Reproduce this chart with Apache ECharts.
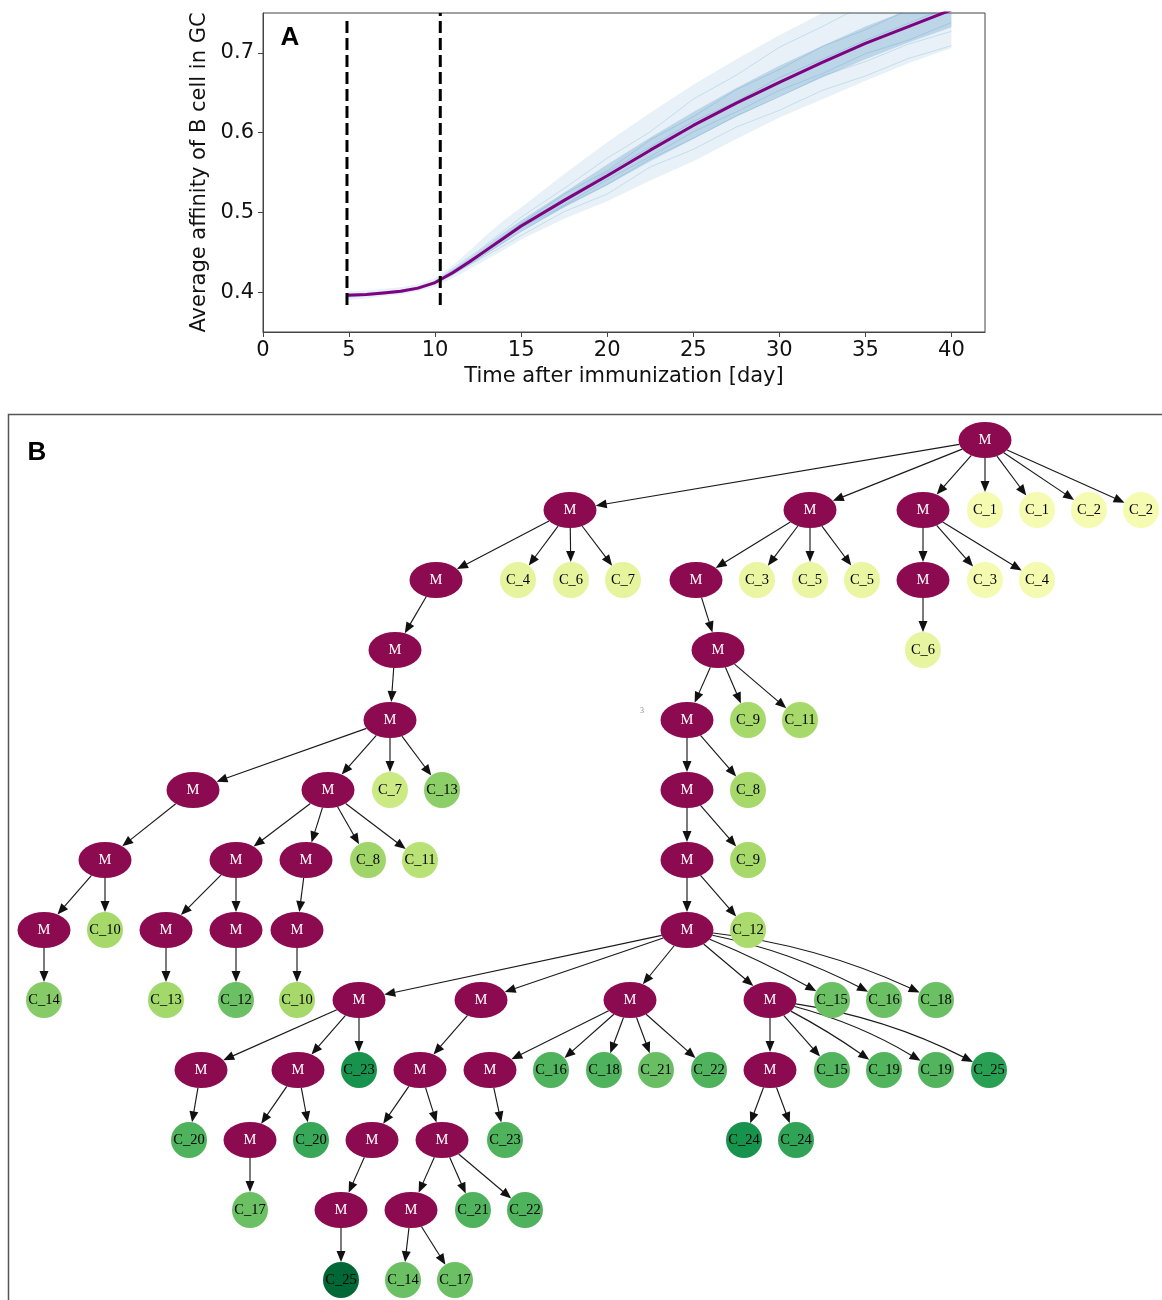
<!DOCTYPE html>
<html><head><meta charset="utf-8">
<script src="https://cdn.jsdelivr.net/npm/echarts@6/dist/echarts.min.js"></script>
<style>html,body{margin:0;padding:0;background:#fff}#c{width:1162px;height:1300px}</style>
</head><body><div id="c"></div>
<script>
// ================= Panel A data =================
const xTicks = [0, 5, 10, 15, 20, 25, 30, 35, 40];
const yTicks = [0.4, 0.5, 0.6, 0.7];
const days = [4.9, 6, 7, 8, 9, 10, 11, 12, 13, 14, 15, 17.5, 20, 22.5, 25, 27.5, 30, 32.5, 35, 37.5, 40];
const meanAffinity = [0.396, 0.397, 0.399, 0.401, 0.405, 0.412, 0.424, 0.438, 0.453, 0.468, 0.483, 0.515, 0.546, 0.578, 0.609, 0.637, 0.663, 0.688, 0.712, 0.733, 0.754];
const outerLow  = [0.390, 0.392, 0.395, 0.397, 0.401, 0.407, 0.417, 0.429, 0.441, 0.453, 0.466, 0.492, 0.514, 0.540, 0.564, 0.592, 0.619, 0.642, 0.665, 0.687, 0.706];
const outerHigh = [0.401, 0.402, 0.404, 0.406, 0.410, 0.418, 0.433, 0.452, 0.472, 0.490, 0.506, 0.548, 0.588, 0.625, 0.660, 0.692, 0.722, 0.750, 0.775, 0.795, 0.810];
const coreLow   = [0.393, 0.395, 0.397, 0.399, 0.403, 0.410, 0.421, 0.434, 0.448, 0.462, 0.476, 0.506, 0.534, 0.564, 0.592, 0.620, 0.645, 0.669, 0.692, 0.713, 0.732];
const coreHigh  = [0.399, 0.399, 0.401, 0.403, 0.407, 0.414, 0.428, 0.443, 0.459, 0.475, 0.490, 0.525, 0.560, 0.594, 0.626, 0.656, 0.684, 0.709, 0.733, 0.754, 0.776];
const traceDays = [10, 12.5, 15, 17.5, 20, 22.5, 25, 27.5, 30, 32.5, 35, 37.5, 40];
const trace1 = [0.414, 0.452, 0.494, 0.530, 0.568, 0.601, 0.642, 0.672, 0.707, 0.733, 0.761, 0.779, 0.801];
const trace2 = [0.413, 0.447, 0.486, 0.523, 0.552, 0.591, 0.620, 0.654, 0.679, 0.708, 0.729, 0.754, 0.770];
const trace3 = [0.412, 0.444, 0.481, 0.509, 0.541, 0.570, 0.601, 0.626, 0.653, 0.674, 0.699, 0.716, 0.738];
const trace4 = [0.411, 0.440, 0.471, 0.501, 0.523, 0.557, 0.579, 0.607, 0.628, 0.653, 0.671, 0.693, 0.709];
const trace5 = [0.412, 0.446, 0.485, 0.517, 0.550, 0.582, 0.614, 0.639, 0.669, 0.692, 0.716, 0.737, 0.759];
const trace6 = [0.412, 0.442, 0.476, 0.508, 0.535, 0.567, 0.593, 0.621, 0.645, 0.671, 0.689, 0.711, 0.727];
const markerDays = [4.88, 10.3];
const markerLow = [0.384, 0.384];
const markerHigh = [0.744, 0.75];

// ================= Panel B data (lineage tree) =================
const nodeLabel = [
  'M',
  'M','M','M','C_1','C_1','C_2','C_2',
  'M','C_4','C_6','C_7','M','C_3','C_5','C_5','M','C_3','C_4',
  'M','M','C_6',
  'M','M','C_9','C_11',
  'M','M','C_7','C_13','M','C_8',
  'M','M','M','C_8','C_11','M','C_9',
  'M','C_10','M','M','M','M','C_12',
  'C_14','C_13','C_12','C_10','M','M','M','M','C_15','C_16','C_18',
  'M','M','C_23','M','M','C_16','C_18','C_21','C_22','M','C_15','C_19','C_19','C_25',
  'C_20','M','C_20','M','M','C_23','C_24','C_24',
  'C_17','M','M','C_21','C_22',
  'C_25','C_14','C_17'
];
const nodeParent = [
  -1,
  0,0,0,0,0,0,0,
  1,1,1,1,2,2,2,2,3,3,3,
  8,12,16,
  19,20,20,20,
  22,22,22,22,23,23,
  26,27,27,27,27,30,30,
  32,32,33,33,34,37,37,
  39,41,42,43,44,44,44,44,44,44,44,
  50,50,50,51,52,52,52,52,52,53,53,53,53,53,
  57,58,58,60,60,61,66,66,
  72,74,75,75,75,
  80,81,81
];
// horizontal layout position of each node (graph units)
const nodePosX = [
  985,
  570,810,923,985,1037,1089,1141,
  436,518,571,623,696,757,810,862,923,985,1037,
  395,718,923,
  390,687,748,800,
  193,328,390,442,687,748,
  105,236,306,368,420,687,748,
  44,105,166,236,297,687,748,
  44,166,236,297,359,481,630,770,832,884,936,
  201,298,359,420,490,551,604,656,709,770,832,884,936,989,
  189,250,311,372,442,505,744,796,
  250,341,411,473,525,
  341,403,455
];
// colour value (0..1) of each clone node; null for 'M'
const nodeShade = [
  null,
  null,null,null,0.05,0.05,0.05,0.05,
  null,0.13,0.13,0.13,null,0.11,0.11,0.11,null,0.06,0.06,
  null,null,0.12,
  null,null,0.40,0.40,
  null,null,0.25,0.48,null,0.40,
  null,null,null,0.42,0.33,null,0.40,
  null,0.40,null,null,null,null,0.38,
  0.50,0.41,0.58,0.40,null,null,null,null,0.58,0.58,0.58,
  null,null,0.82,null,null,0.66,0.66,0.59,0.66,null,0.65,0.65,0.65,0.76,
  0.66,null,0.72,null,null,0.66,0.82,0.74,
  0.58,null,null,0.66,0.66,
  1.0,0.58,0.58
];
// curved edges (by child index) and their bend
const edgeBend = {54: 0.03, 55: 0.07, 56: 0.08, 68: 0.03, 69: 0.07, 70: 0.08};

// ================= build =================
const nodeDepth = nodeParent.map(() => 0);
for (let i = 0; i < nodeParent.length; i++) nodeDepth[i] = nodeParent[i] < 0 ? 0 : nodeDepth[nodeParent[i]] + 1;

const cmapStops = [[0, [255,255,191]], [0.2, [217,239,139]], [0.4, [166,217,106]], [0.6, [102,189,99]], [0.8, [26,152,80]], [1, [0,104,55]]];
function shadeColor(t) {
  for (let k = 1; k < cmapStops.length; k++) {
    if (t <= cmapStops[k][0]) {
      const a = cmapStops[k-1], b = cmapStops[k];
      const f = (t - a[0]) / (b[0] - a[0]);
      const c = a[1].map((v, j) => Math.round(v + (b[1][j] - v) * f));
      return 'rgb(' + c.join(',') + ')';
    }
  }
  return 'rgb(0,104,55)';
}

const ellipsePath = 'path://M0,18 A26.5,18 0 1,1 53,18 A26.5,18 0 1,1 0,18 Z';
function radii(i) { return nodeLabel[i] === 'M' ? [26.5, 18] : [18, 18]; }
function boundary(c, r, dx, dy) {
  const s = 1 / Math.sqrt((dx / r[0]) ** 2 + (dy / r[1]) ** 2);
  return [c[0] + dx * s, c[1] + dy * s];
}

const FONT = 'DejaVu Sans';
const bands = [[outerLow, outerHigh, 'rgba(31,119,180,0.10)'], [coreLow, coreHigh, 'rgba(31,119,180,0.22)']];
const traces = [trace1, trace2, trace3, trace4, trace5, trace6];

const series = [];
series.push({
  type: 'custom', xAxisIndex: 0, yAxisIndex: 0, clip: true, silent: true,
  data: bands.map((b, i) => [i]),
  renderItem: function (params, api) {
    const b = bands[api.value(0)];
    const pts = [];
    days.forEach((d, j) => pts.push(api.coord([d, b[1][j]])));
    for (let j = days.length - 1; j >= 0; j--) pts.push(api.coord([days[j], b[0][j]]));
    return {type: 'polygon', shape: {points: pts}, style: {fill: b[2]}};
  }
});
traces.forEach(tr => series.push({
  type: 'line', xAxisIndex: 0, yAxisIndex: 0, showSymbol: false, silent: true,
  data: traceDays.map((d, j) => [d, tr[j]]),
  lineStyle: {color: '#1f77b4', width: 0.8, opacity: 0.22}
}));
series.push({
  type: 'line', xAxisIndex: 0, yAxisIndex: 0, showSymbol: false, silent: true, z: 5,
  data: days.map((d, j) => [d, meanAffinity[j]]),
  lineStyle: {color: '#800080', width: 3}
});
markerDays.forEach((d, j) => series.push({
  type: 'line', xAxisIndex: 0, yAxisIndex: 0, showSymbol: false, silent: true, z: 6,
  data: [[d, markerLow[j]], [d, markerHigh[j]]],
  lineStyle: {color: '#000', width: 3, type: [12, 5]}
}));

// tree edges
const childIdx = [];
for (let i = 0; i < nodeParent.length; i++) if (nodeParent[i] >= 0) childIdx.push([i]);
series.push({
  type: 'custom', xAxisIndex: 1, yAxisIndex: 1, silent: true, z: 2,
  data: childIdx,
  renderItem: function (params, api) {
    const t = api.value(0), s = nodeParent[t];
    const p1 = api.coord([nodePosX[s], nodeDepth[s]]);
    const p2 = api.coord([nodePosX[t], nodeDepth[t]]);
    const bend = edgeBend[t] || 0;
    const dx = p2[0] - p1[0], dy = p2[1] - p1[1];
    const cp = [(p1[0] + p2[0]) / 2 + dy * bend, (p1[1] + p2[1]) / 2 - dx * bend];
    const start = boundary(p1, radii(s), cp[0] - p1[0], cp[1] - p1[1]);
    const tip = boundary(p2, radii(t), cp[0] - p2[0], cp[1] - p2[1]);
    let ux = tip[0] - cp[0], uy = tip[1] - cp[1];
    const L = Math.hypot(ux, uy); ux /= L; uy /= L;
    const len = 11, hw = 4.5;
    const base = [tip[0] - ux * len, tip[1] - uy * len];
    const stroke = {stroke: '#1a1a1a', lineWidth: 1.15, fill: null};
    const line = bend === 0
      ? {type: 'line', shape: {x1: start[0], y1: start[1], x2: base[0] + ux, y2: base[1] + uy}, style: stroke}
      : {type: 'bezierCurve', shape: {x1: start[0], y1: start[1], x2: base[0] + ux, y2: base[1] + uy, cpx1: cp[0], cpy1: cp[1]}, style: stroke};
    const arrow = {type: 'polygon', shape: {points: [tip, [base[0] - uy * hw, base[1] + ux * hw], [base[0] + uy * hw, base[1] - ux * hw]]}, style: {fill: '#111'}};
    return {type: 'group', children: [line, arrow]};
  }
});
// tree nodes
series.push({
  type: 'scatter', xAxisIndex: 1, yAxisIndex: 1, silent: true, z: 3, clip: false,
  data: nodeLabel.map((lab, i) => ({
    value: [nodePosX[i], nodeDepth[i]],
    name: lab,
    symbol: lab === 'M' ? ellipsePath : 'circle',
    symbolSize: lab === 'M' ? [53, 36] : 36,
    itemStyle: {color: lab === 'M' ? '#8b0a50' : shadeColor(nodeShade[i]), opacity: 1},
    label: {color: lab === 'M' ? '#ffffff' : '#000000'}
  })),
  label: {show: true, position: 'inside', formatter: '{b}', fontFamily: 'Liberation Serif', fontSize: 14.5}
});

const axisText = {fontFamily: FONT, fontSize: 21, color: '#111'};
const option = {
  animation: false,
  backgroundColor: '#fff',
  grid: [
    {left: 263, top: 13, width: 722, height: 319, show: true, borderColor: '#444', borderWidth: 1, backgroundColor: 'transparent', outerBoundsMode: 'none'},
    {left: 0, top: 440, width: 1162, height: 840, show: false, outerBoundsMode: 'none'}
  ],
  xAxis: [
    {gridIndex: 0, type: 'value', min: 0, max: 41.95,
     name: 'Time after immunization [day]', nameLocation: 'middle', nameGap: 34, nameTextStyle: axisText,
     axisLine: {show: true, lineStyle: {color: '#444', width: 1}},
     axisTick: {show: true, length: 5, lineStyle: {color: '#444'}, customValues: xTicks},
     axisLabel: Object.assign({margin: 8, customValues: xTicks}, axisText),
     splitLine: {show: false}},
    {gridIndex: 1, type: 'value', min: 0, max: 1162, show: false}
  ],
  yAxis: [
    {gridIndex: 0, type: 'value', min: 0.35, max: 0.75,
     name: 'Average affinity of B cell in GC', nameLocation: 'middle', nameGap: 48, nameTextStyle: axisText,
     axisLine: {show: true, lineStyle: {color: '#444', width: 1}},
     axisTick: {show: true, length: 5, lineStyle: {color: '#444'}, customValues: yTicks},
     axisLabel: Object.assign({margin: 9, customValues: yTicks, formatter: v => v.toFixed(1)}, axisText),
     splitLine: {show: false}},
    {gridIndex: 1, type: 'value', min: 0, max: 12, inverse: true, show: false}
  ],
  graphic: [
    {type: 'rect', z: -10, shape: {x: 8.5, y: 414.5, width: 1200, height: 1000}, style: {fill: 'none', stroke: '#555', lineWidth: 1.5}},
    {type: 'text', x: 290, y: 38, style: {text: 'A', fontFamily: 'Liberation Sans', fontWeight: 'bold', fontSize: 26, fill: '#000', align: 'center', verticalAlign: 'middle'}},
    {type: 'text', x: 37, y: 453, style: {text: 'B', fontFamily: 'Liberation Sans', fontWeight: 'bold', fontSize: 26, fill: '#000', align: 'center', verticalAlign: 'middle'}},
    {type: 'text', x: 642, y: 711, style: {text: '3', fontFamily: 'Liberation Serif', fontSize: 8, fill: '#888', align: 'center', verticalAlign: 'middle'}}
  ],
  series: series
};
const chart = echarts.init(document.getElementById('c'), null, {renderer: 'canvas'});
chart.setOption(option);
</script></body></html>
